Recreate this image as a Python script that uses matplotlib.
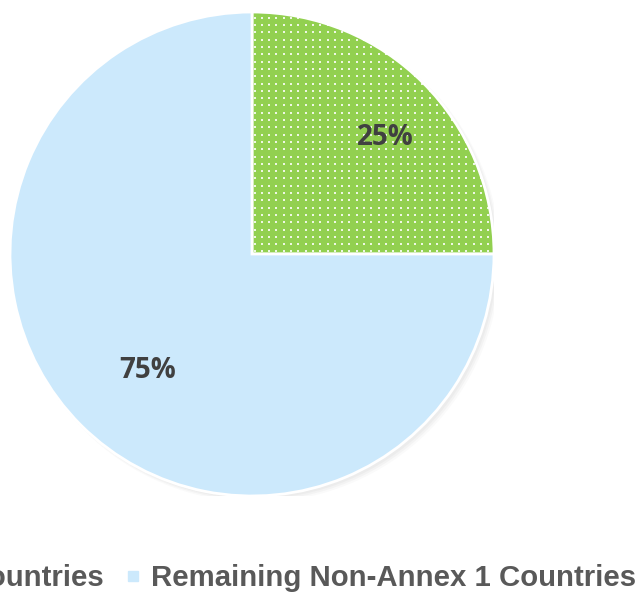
import numpy as np
import matplotlib
matplotlib.use("Agg")
import matplotlib.pyplot as plt
from matplotlib.lines import Line2D
from matplotlib.patches import Circle

categories = ["Annex 1 Countries", "Remaining Non-Annex 1 Countries"]
values = [25, 75]
labels = ["25%", "75%"]
colors = ["#92D050", "#CCE9FC"]

W, H = 638, 597
fig = plt.figure(figsize=(W / 100, H / 100), dpi=100)
cx, cy, r = 252, 254, 242
ax = fig.add_axes([(cx - r) / W, (H - cy - r) / H, 2 * r / W, 2 * r / H])

wedges, texts = ax.pie(values, colors=colors, startangle=90, counterclock=False,
                       radius=1.0, wedgeprops=dict(edgecolor="white", linewidth=2))
ax.set_xlim(-1, 1)
ax.set_ylim(-1, 1)
ax.set_aspect("equal")
ax.axis("off")

# soft shadow
for i, a in enumerate([0.05, 0.05, 0.04]):
    ax.add_patch(Circle((0.012 + i * 0.004, -0.012 - i * 0.004), 1.0 + i * 0.003,
                        facecolor="#808080", alpha=a, edgecolor="none", zorder=0))
for w in wedges:
    w.set_zorder(2)

# dotted texture on first wedge
step = 7.3 / r
g = np.arange(-1, 1, step) + step / 2
gx, gy = np.meshgrid(g, g)
dots = ax.scatter(gx.ravel(), gy.ravel(), s=2.2, marker="s", c="white",
                  linewidths=0, alpha=0.85, zorder=3)
dots.set_clip_path(wedges[0])

# labels
label_pos = [(0.55, 0.48), (-0.43, -0.48)]
for (x, y), t in zip(label_pos, labels):
    ax.text(x, y, t, ha="center", va="center", fontsize=20, fontweight="bold",
            color="#404040", family="Open Sans", zorder=5)

handles = [Line2D([], [], marker="s", linestyle="none", markersize=7.5,
                  markerfacecolor=c, markeredgecolor=c) for c in colors]
fig.legend(handles, categories, loc="center right", bbox_to_anchor=(636 / W, 19 / H),
           ncol=2, frameon=False, borderaxespad=0, borderpad=0, handletextpad=0.3,
           columnspacing=0.7, handlelength=0.6,
           prop=dict(family="Liberation Sans", weight="bold", size=21.2),
           labelcolor="#595959")

fig.savefig("out.png", dpi=100)
